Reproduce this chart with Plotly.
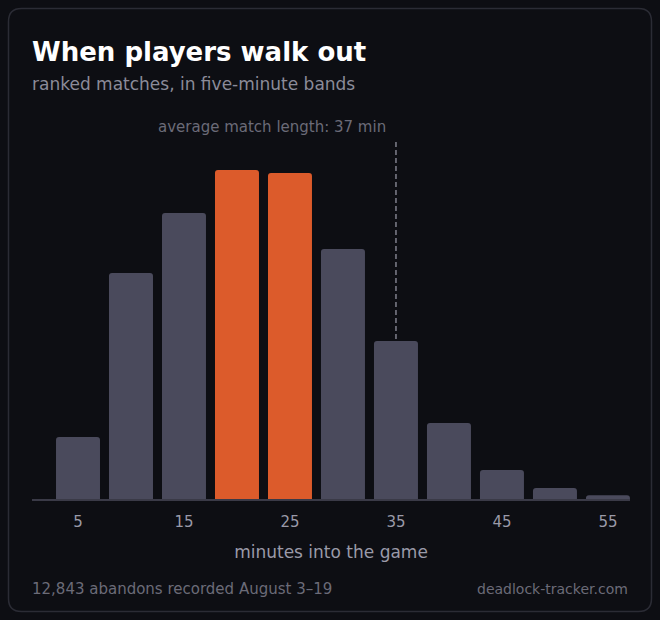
import plotly.graph_objects as go

# five-minute bands (label = band start)
BANDS = [5, 10, 15, 20, 25, 30, 35, 40, 45, 50, 55]
ABANDONS = [453, 1652, 2091, 2405, 2383, 1828, 1155, 556, 212, 80, 28]
PEAK_BANDS = [20, 25]
TICKS = [5, 15, 25, 35, 45, 55]
AVG_MATCH_MIN = 37

W, H = 660, 620
L, R, T, B = 32, 30, 140, 121

BG = "#0d0e13"
CARD_EDGE = "#2b2c35"
BAR = "#4a4a5c"
PEAK = "#dc5b2b"
MUTED = "#8b8b99"
DIM = "#6b6b78"


def px(x, y):
    # pixel position -> paper coords
    return (x - L) / (W - L - R), (H - B - y) / (H - T - B)


def rounded_rect(x0, y0, x1, y1, r):
    def p(x, y):
        a, b = px(x, y)
        return f"{a:.5f},{b:.5f}"
    return (f"M{p(x0 + r, y0)} L{p(x1 - r, y0)} Q{p(x1, y0)} {p(x1, y0 + r)} "
            f"L{p(x1, y1 - r)} Q{p(x1, y1)} {p(x1 - r, y1)} "
            f"L{p(x0 + r, y1)} Q{p(x0, y1)} {p(x0, y1 - r)} "
            f"L{p(x0, y0 + r)} Q{p(x0, y0)} {p(x0 + r, y0)} Z")


def note(x, y, text, size, color, anchor="left"):
    a, b = px(x, y)
    fig.add_annotation(x=a, y=b, xref="paper", yref="paper", text=text,
                       showarrow=False, xanchor=anchor, yanchor="middle",
                       borderpad=0, font=dict(size=size, color=color))


colors = [PEAK if b in PEAK_BANDS else BAR for b in BANDS]
avg_band = AVG_MATCH_MIN // 5 * 5

fig = go.Figure(go.Bar(
    x=BANDS, y=ABANDONS, marker=dict(color=colors, cornerradius=3, line_width=0),
    hovertemplate="%{x} min: %{y:,}<extra></extra>",
))

fig.add_shape(type="path", path=rounded_rect(8.5, 8.5, 651.5, 611.5, 13),
              xref="paper", yref="paper", line=dict(color=CARD_EDGE, width=1.5),
              fillcolor=BG, layer="below")
fig.add_shape(type="line", xref="x", yref="paper", x0=avg_band, x1=avg_band,
              y0=0, y1=1.0, line=dict(color="#80808c", width=1.5, dash="5px,3px"),
              layer="below")

ax, ay = px(0, 127)
fig.add_annotation(x=avg_band, y=ay, xref="x", yref="paper", xshift=-8,
                   text=f"average match length: {AVG_MATCH_MIN} min",
                   showarrow=False, xanchor="right", yanchor="middle",
                   font=dict(size=15, color=DIM))

note(31, 52, "<b>When players walk out</b>", 26, "#ffffff")
note(31, 84, "ranked matches, in five-minute bands", 17, MUTED)
note(31, 589, f"{sum(ABANDONS):,} abandons recorded August 3–19", 15, DIM)
note(629, 589, "deadlock-tracker.com", 14, DIM, anchor="right")

fig.update_xaxes(range=[0.66, 57.08], tickvals=TICKS, ticks="", showgrid=False,
                 zeroline=False, showline=True, linecolor="#3a3a47", linewidth=1.5,
                 ticklabelstandoff=8, tickfont=dict(size=15, color="#9a9aa8"),
                 title=dict(text="minutes into the game", standoff=16,
                            font=dict(size=17, color="#9a9aa8")))
fig.update_yaxes(range=[0, 2624], visible=False, showgrid=False, zeroline=False)

fig.update_layout(
    width=W, height=H, margin=dict(l=L, r=R, t=T, b=B),
    paper_bgcolor=BG, plot_bgcolor="rgba(0,0,0,0)",
    font=dict(family="DejaVu Sans, sans-serif", color=MUTED),
    bargap=0.17, showlegend=False,
)

fig.write_html("out.html", config={"displayModeBar": False}, post_script=(
    "document.body.style.margin='0';"
    "document.body.style.background='#0d0e13';"))
